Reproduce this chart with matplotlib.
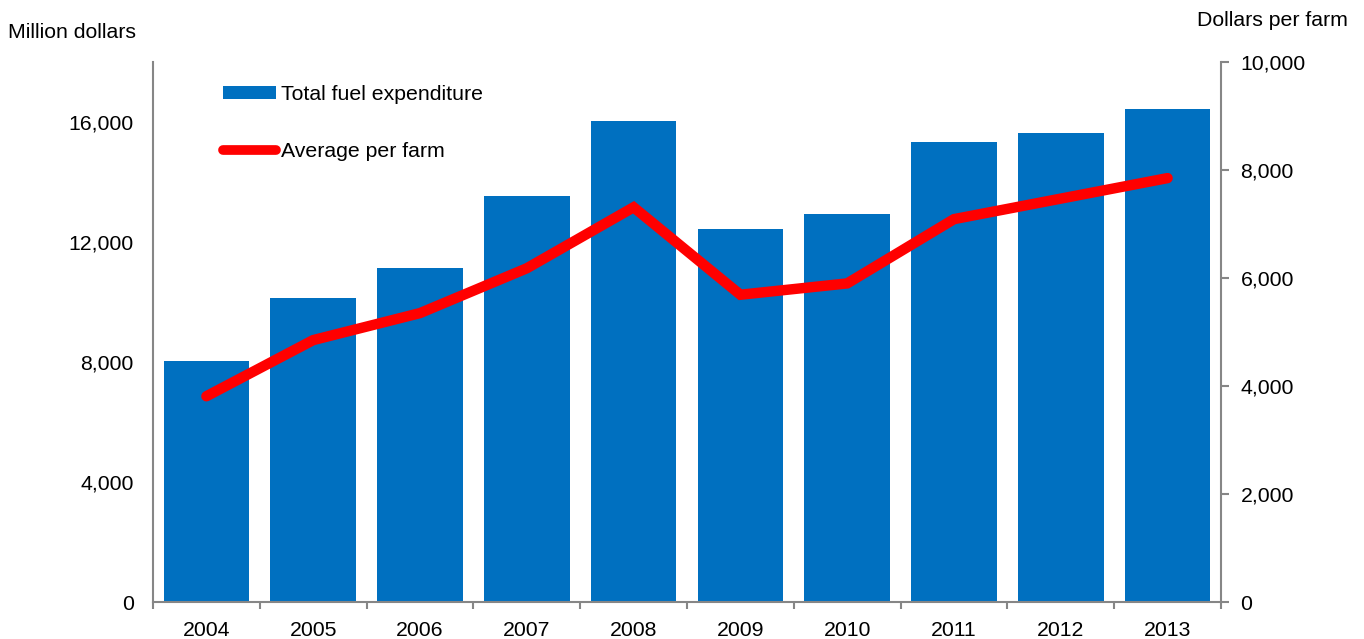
import matplotlib.pyplot as plt
from matplotlib.lines import Line2D
from matplotlib.patches import Patch
import numpy as np

plt.rcParams['font.family'] = ['Liberation Sans', 'DejaVu Sans']

years = ['2004', '2005', '2006', '2007', '2008', '2009', '2010', '2011', '2012', '2013']
total_fuel = [8030, 10120, 11120, 13530, 16030, 12430, 12930, 15320, 15620, 16420]
per_farm = [3810, 4850, 5350, 6180, 7310, 5690, 5900, 7090, 7470, 7850]

BLUE = '#0070C0'
RED = '#FF0000'
GRAY = '#868686'
FS = 15.3

fig = plt.figure(figsize=(13.64, 6.39), dpi=100)
ax = fig.add_axes([153 / 1364, 1 - 602 / 639, (1221 - 153) / 1364, (602 - 62) / 639])
ax2 = ax.twinx()

x = np.arange(len(years))
ax.bar(x, total_fuel, width=0.8, color=BLUE, zorder=2)
ax2.plot(x, per_farm, color=RED, lw=7.5, solid_capstyle='round',
         solid_joinstyle='miter', zorder=3)

ax.set_xlim(-0.5, len(years) - 0.5)
ax.set_ylim(0, 18000)
ax2.set_ylim(0, 10000)

ax.set_yticks([0, 4000, 8000, 12000, 16000])
ax.set_yticklabels(['0', '4,000', '8,000', '12,000', '16,000'])
ax2.set_yticks([0, 2000, 4000, 6000, 8000, 10000])
ax2.set_yticklabels(['0', '2,000', '4,000', '6,000', '8,000', '10,000'])

ax.set_xticks(x)
ax.set_xticklabels(years)
ax.set_xticks(np.arange(-0.5, len(years)), minor=True)

ax.tick_params(axis='x', which='major', length=0, pad=13.5, labelsize=FS)
ax.tick_params(axis='x', which='minor', length=5, width=1.5, color=GRAY, direction='out')
ax.tick_params(axis='y', length=0, pad=14, labelsize=FS)
ax2.tick_params(axis='y', length=6, width=1.5, color=GRAY, direction='out', pad=8, labelsize=FS)

for a in (ax, ax2):
    a.spines['top'].set_visible(False)
    for s in ('left', 'right', 'bottom'):
        a.spines[s].set_color(GRAY)
        a.spines[s].set_linewidth(1.5)
ax.spines['right'].set_visible(False)
ax2.spines['left'].set_visible(False)
ax2.spines['bottom'].set_visible(False)

fig.text(8 / 1364, 1 - 33 / 639, 'Million dollars', fontsize=FS, va='center', ha='left')
fig.text(1348 / 1364, 1 - 20 / 639, 'Dollars per farm', fontsize=FS, va='center', ha='right')

handles = [Patch(facecolor=BLUE, edgecolor='none'),
           Line2D([], [], color=RED, lw=7, solid_capstyle='round')]
ax2.legend(handles, ['Total fuel expenditure', 'Average per farm'],
           loc='upper left', bbox_to_anchor=(223 / 1364, 1 - 85 / 639),
           bbox_transform=fig.transFigure, frameon=False, fontsize=FS,
           handlelength=2.5, handleheight=0.5, handletextpad=0.25,
           labelspacing=1.8, borderpad=0, borderaxespad=0)

fig.savefig('out.png', dpi=100)
